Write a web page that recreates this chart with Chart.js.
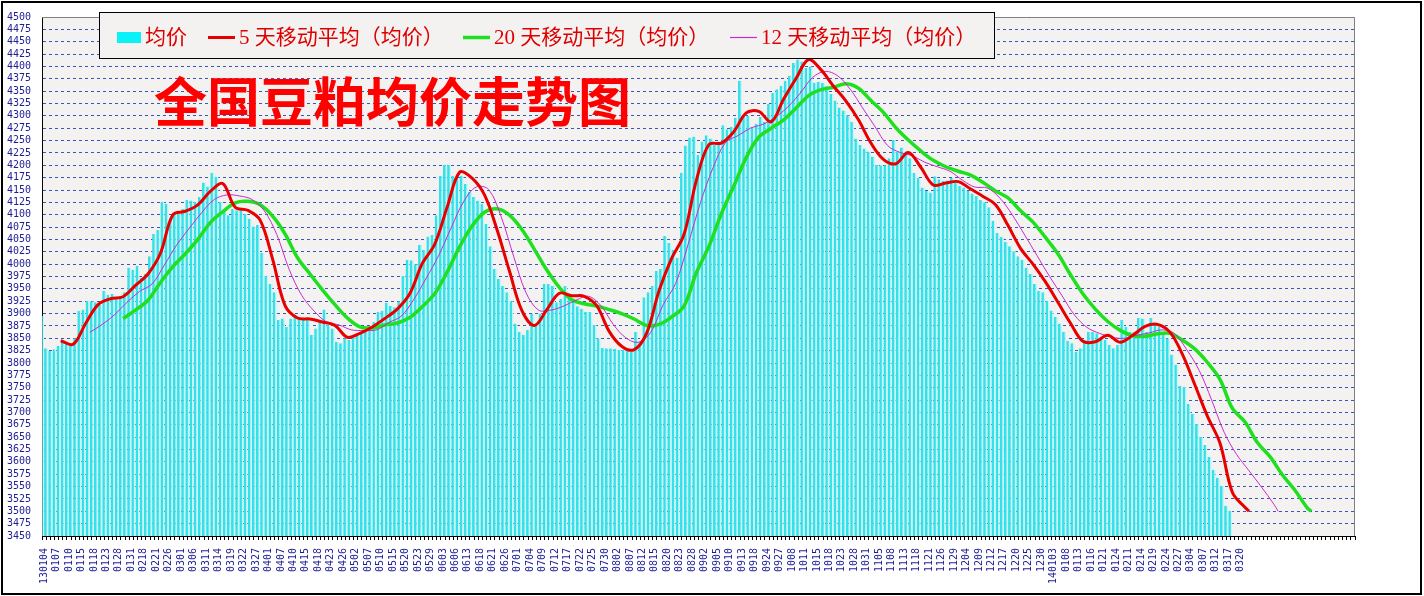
<!DOCTYPE html>
<html>
<head>
<meta charset="utf-8">
<title>全国豆粕均价走势图</title>
<script src="https://cdn.jsdelivr.net/npm/chart.js@4.4.1/dist/chart.umd.min.js"></script>
<style>
  html, body { margin: 0; padding: 0; background: #fff; }
  canvas { display: block; }
</style>
</head>
<body>
<canvas id="myChart" width="1424" height="596"></canvas>
<script>
// tick labels, one every 3 trading days
const dates = [
  "130104","0107","0110","0115","0118","0123","0128","0131","0218","0221",
  "0226","0301","0306","0311","0314","0319","0322","0327","0401","0407",
  "0410","0415","0418","0423","0426","0502","0507","0510","0515","0520",
  "0523","0529","0603","0606","0613","0618","0621","0626","0701","0704",
  "0709","0712","0717","0722","0725","0730","0802","0807","0812","0815",
  "0820","0823","0828","0902","0905","0910","0913","0918","0924","0927",
  "1008","1011","1015","1018","1023","1028","1031","1105","1108","1113",
  "1118","1121","1126","1129","1204","1209","1212","1217","1220","1225",
  "1230","140103","0108","0113","0116","0121","0124","0211","0214","0219",
  "0224","0227","0304","0307","0312","0317","0320"
];

// daily average price (均价)
const avgPrice = [
  3895,3830,3825,3828,3835,3847,3840,3838,3850,3905,
  3908,3926,3925,3923,3918,3946,3938,3940,3930,3936,
  3943,3993,3988,3997,3973,3980,4016,4061,4069,4126,
  4122,4092,4102,4102,4112,4130,4129,4126,4136,4165,
  4157,4185,4177,4126,4106,4099,4112,4109,4110,4102,
  4092,4076,4079,4023,3976,3960,3943,3887,3890,3873,
  3890,3893,3891,3890,3887,3857,3870,3883,3908,3877,
  3870,3843,3840,3850,3847,3857,3860,3863,3863,3867,
  3883,3903,3905,3922,3916,3913,3925,3976,4009,4008,
  4000,4039,4029,4056,4059,4099,4179,4201,4201,4179,
  4175,4179,4162,4146,4136,4129,4122,4081,4036,3990,
  3970,3956,3943,3925,3880,3863,3857,3867,3900,3880,
  3900,3960,3960,3956,3923,3930,3956,3930,3926,3915,
  3910,3903,3903,3877,3850,3831,3830,3830,3829,3827,
  3827,3830,3824,3863,3843,3933,3943,3956,3986,3990,
  4057,4043,4029,4013,4185,4240,4256,4258,4221,4248,
  4261,4254,4241,4248,4281,4273,4278,4296,4371,4301,
  4300,4278,4284,4298,4288,4324,4347,4354,4361,4371,
  4381,4407,4414,4410,4397,4400,4367,4369,4367,4361,
  4344,4331,4317,4311,4301,4288,4254,4241,4234,4228,
  4218,4201,4200,4200,4214,4251,4228,4236,4228,4214,
  4185,4175,4155,4148,4145,4178,4172,4168,4169,4175,
  4165,4158,4155,4148,4143,4138,4130,4125,4115,4088,
  4063,4055,4045,4036,4026,4016,4009,3993,3980,3960,
  3946,3943,3926,3906,3893,3880,3863,3845,3840,3823,
  3830,3847,3863,3863,3860,3850,3847,3837,3830,3837,
  3887,3873,3863,3863,3891,3890,3863,3891,3880,3873,
  3863,3850,3817,3797,3754,3752,3717,3697,3677,3651,
  3634,3610,3584,3568,3551,3511,3501
];

// moving averages every 3 days (last value = line end)
const ma5 = [
  3845,3838,3880,3918,3930,3934,3957,3980,4022,4100,
  4107,4120,4147,4163,4115,4109,4089,4010,3916,3891,
  3889,3883,3876,3852,3860,3873,3890,3909,3940,4001,
  4040,4115,4186,4174,4140,4070,3986,3906,3876,3908,
  3941,3936,3935,3916,3864,3834,3827,3860,3946,4011,
  4060,4170,4242,4245,4268,4306,4309,4288,4334,4376,
  4414,4393,4360,4330,4292,4245,4212,4203,4226,4196,
  4160,4164,4167,4152,4137,4120,4078,4032,4000,3964,
  3923,3881,3844,3843,3856,3842,3856,3874,3878,3862,
  3817,3755,3692,3638,3538,3508,3500
];
const ma20 = [
  3890,3907,3927,3963,3995,4021,4050,4084,4106,4124,
  4127,4120,4097,4061,4013,3980,3948,3918,3891,3873,
  3871,3877,3881,3892,3914,3940,3984,4035,4077,4105,
  4112,4099,4070,4030,3988,3953,3928,3920,3915,3908,
  3900,3889,3876,3878,3893,3915,3983,4036,4102,4158,
  4216,4257,4275,4292,4316,4341,4353,4358,4365,4356,
  4331,4307,4276,4251,4229,4210,4197,4188,4180,4165,
  4148,4134,4108,4085,4054,4021,3979,3940,3909,3884,
  3866,3855,3854,3859,3860,3846,3828,3801,3767,3708,
  3681,3639,3611,3574,3543,3507,3500
];
const ma12 = [
  3862,3878,3898,3923,3945,3960,3999,4040,4073,4105,
  4131,4140,4138,4131,4108,4060,3989,3937,3905,3883,
  3877,3867,3866,3867,3882,3895,3929,3972,4018,4074,
  4127,4156,4151,4096,4016,3942,3907,3907,3915,3927,
  3935,3916,3878,3851,3842,3862,3918,3961,4040,4125,
  4195,4246,4260,4275,4283,4297,4318,4346,4378,4390,
  4381,4354,4316,4278,4240,4226,4219,4206,4197,4188,
  4170,4156,4154,4134,4100,4059,4017,3975,3936,3897,
  3872,3860,3852,3850,3856,3861,3867,3860,3827,3785,
  3725,3660,3615,3582,3549,3514,3500
];

const totalSlots = 316;   // categories on the axis
const labelStep = 3;
const lastIdx = avgPrice.length - 1;

const labels = [];
for (let i = 0; i < totalSlots; i++) labels.push("");
dates.forEach((d, k) => { labels[k * labelStep] = d; });

function maPoints(values, period) {
  return values.map((v, k) => ({ x: period - 1 + Math.min(k * labelStep, lastIdx), y: v }));
}

const paperColor = "#f4f2f1";

const paperBackground = {
  id: "paperBackground",
  beforeDraw(chart) {
    const { ctx, chartArea: a, width, height } = chart;
    ctx.save();
    ctx.fillStyle = "#ffffff";
    ctx.fillRect(0, 0, width, height);
    ctx.fillStyle = paperColor;
    ctx.fillRect(a.left, a.top, a.right - a.left, a.bottom - a.top);
    ctx.strokeStyle = "#000";
    ctx.lineWidth = 2;
    ctx.strokeRect(2, 2, width - 5, height - 4);
    ctx.restore();
  },
  afterDatasetsDraw(chart) {
    const { ctx, chartArea: a } = chart;
    ctx.save();
    ctx.strokeStyle = "#808080";
    ctx.lineWidth = 1;
    ctx.beginPath();
    ctx.moveTo(a.left, a.top + 0.5);
    ctx.lineTo(a.right - 0.5, a.top + 0.5);
    ctx.lineTo(a.right - 0.5, a.bottom);
    ctx.stroke();
    ctx.restore();
  }
};

const legendItems = [
  { ds: 0, x: 117 },
  { ds: 1, x: 208 },
  { ds: 2, x: 463 },
  { ds: 3, x: 730 }
];

const legendAndTitle = {
  id: "legendAndTitle",
  afterDraw(chart) {
    const ctx = chart.ctx;
    const sets = chart.data.datasets;
    ctx.save();
    ctx.fillStyle = paperColor;
    ctx.fillRect(99, 12, 896, 46);
    ctx.strokeStyle = "#000";
    ctx.lineWidth = 1;
    ctx.strokeRect(99.5, 12.5, 895, 46);

    ctx.font = '21px "Liberation Serif", "Noto Sans CJK SC", serif';
    ctx.textBaseline = "middle";
    legendItems.forEach(item => {
      const ds = sets[item.ds];
      let tx;
      if (ds.type === "bar") {
        ctx.fillStyle = "#0af2f8";
        ctx.fillRect(item.x, 32, 24, 11);
        tx = item.x + 28;
      } else {
        ctx.strokeStyle = ds.borderColor;
        ctx.lineWidth = Math.max(ds.borderWidth, 1.2);
        ctx.beginPath();
        ctx.moveTo(item.x, 37.5);
        ctx.lineTo(item.x + 27, 37.5);
        ctx.stroke();
        tx = item.x + 31;
      }
      ctx.fillStyle = "#dd0000";
      ctx.fillText(ds.label, tx, 38);
    });

    ctx.font = 'bold 53px "Noto Sans CJK SC", sans-serif';
    ctx.fillStyle = "#ff0000";
    ctx.fillText("全国豆粕均价走势图", 154, 102);
    ctx.restore();
  }
};

const axisFont = { family: "DejaVu Sans Mono", size: 10 };
const axisColor = "#1c1c94";

new Chart("myChart", {
  data: {
    labels: labels,
    datasets: [
      {
        type: "bar",
        label: "均价",
        data: avgPrice,
        backgroundColor: "#34e1e9",
        borderColor: "#c4f5f8",
        borderWidth: { right: 1.6, left: 0, top: 0, bottom: 0 },
        borderSkipped: false,
        inflateAmount: 0,
        barThickness: 4.15,
        order: 4
      },
      {
        type: "line",
        label: "5 天移动平均（均价）",
        data: maPoints(ma5, 5),
        xAxisID: "x2",
        borderColor: "#e80000",
        borderWidth: 3,
        pointRadius: 0,
        tension: 0.35,
        fill: false,
        order: 1
      },
      {
        type: "line",
        label: "20 天移动平均（均价）",
        data: maPoints(ma20, 20),
        xAxisID: "x2",
        borderColor: "#1ee01e",
        borderWidth: 3.5,
        pointRadius: 0,
        tension: 0.35,
        fill: false,
        order: 3
      },
      {
        type: "line",
        label: "12 天移动平均（均价）",
        data: maPoints(ma12, 12),
        xAxisID: "x2",
        borderColor: "#c82ccc",
        borderWidth: 1,
        pointRadius: 0,
        tension: 0.35,
        fill: false,
        order: 2
      }
    ]
  },
  options: {
    responsive: false,
    animation: false,
    devicePixelRatio: 1,
    layout: { padding: { left: 4, top: 13, right: 69, bottom: 3 } },
    plugins: {
      legend: { display: false },
      tooltip: { enabled: false }
    },
    scales: {
      x: {
        type: "category",
        afterFit(s) { s.height = 57; },
        grid: {
          offset: true,
          drawOnChartArea: false,
          drawTicks: true,
          tickLength: 4,
          tickColor: "#000"
        },
        border: { color: "#000", width: 1 },
        ticks: {
          autoSkip: false,
          maxRotation: 90,
          minRotation: 90,
          padding: 8,
          color: axisColor,
          font: axisFont
        }
      },
      x2: {
        type: "linear",
        display: false,
        min: -0.5,
        max: totalSlots - 0.5
      },
      y: {
        min: 3450,
        max: 4500,
        afterFit(s) { s.width = 38; },
        grid: {
          drawTicks: false,
          lineWidth: 1,
          color: c => (c.tick && (c.tick.value === 4500 || c.tick.value === 3450)) ? "rgba(0,0,0,0)" : "#3a56b8"
        },
        border: { color: "#000", width: 1, dash: [3, 3] },
        ticks: {
          stepSize: 25,
          autoSkip: false,
          padding: 11,
          color: axisColor,
          font: axisFont,
          callback: v => String(v)
        }
      }
    }
  },
  plugins: [paperBackground, legendAndTitle]
});
</script>
</body>
</html>
